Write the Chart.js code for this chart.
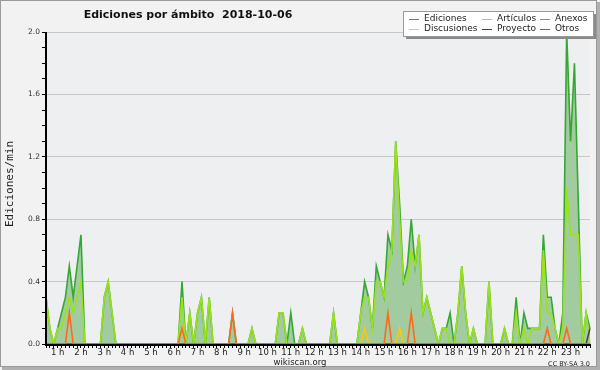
<!DOCTYPE html>
<html>
<head>
<meta charset="utf-8">
<script src="https://cdn.jsdelivr.net/npm/chart.js@4.4.0/dist/chart.umd.min.js"></script>
<style>
html, body { margin: 0; padding: 0; background: #f2f2f2; }
canvas { display: block; }
</style>
</head>
<body>
<canvas id="chart" width="600" height="370"></canvas>
<script>
// 10-minute buckets, 00:30 -> 23:50
const times = [];
for (let m = 30; m <= 1430; m += 10) {
    times.push(String(Math.floor(m / 60)).padStart(2, '0') + ':' + String(m % 60).padStart(2, '0'));
}

// one row per hour (00:30-00:50, then 01:00-01:50, ...)
const ediciones = [
    0.3, 0.1, 0,
    0.1, 0.2, 0.3, 0.5, 0.3, 0.5,
    0.7, 0, 0, 0, 0, 0,
    0.3, 0.4, 0.2, 0, 0, 0,
    0, 0, 0, 0, 0, 0,
    0, 0, 0, 0, 0, 0,
    0, 0, 0.4, 0, 0.2, 0,
    0.2, 0.3, 0, 0.3, 0, 0,
    0, 0, 0, 0.2, 0, 0,
    0, 0, 0.1, 0, 0, 0,
    0, 0, 0, 0.2, 0.2, 0,
    0.2, 0, 0, 0.1, 0, 0,
    0, 0, 0, 0, 0, 0.2,
    0, 0, 0, 0, 0, 0,
    0.2, 0.4, 0.3, 0.1, 0.5, 0.4,
    0.3, 0.7, 0.6, 1.3, 0.9, 0.4,
    0.5, 0.8, 0.5, 0.7, 0.2, 0.3,
    0.2, 0.1, 0, 0.1, 0.1, 0.2,
    0, 0.2, 0.5, 0.2, 0, 0.1,
    0, 0, 0, 0.4, 0, 0,
    0, 0.1, 0, 0, 0.3, 0,
    0.2, 0.1, 0.1, 0.1, 0.1, 0.7,
    0.3, 0.3, 0.1, 0, 0.2, 2.0,
    1.3, 1.8, 0.9, 0, 0.2, 0.1
];
const articulos = [
    0.3, 0.1, 0,
    0.1, 0.1, 0.2, 0.3, 0.2, 0.3,
    0.4, 0, 0, 0, 0, 0,
    0.3, 0.4, 0.2, 0, 0, 0,
    0, 0, 0, 0, 0, 0,
    0, 0, 0, 0, 0, 0,
    0, 0, 0.3, 0, 0.2, 0,
    0.2, 0.3, 0, 0.3, 0, 0,
    0, 0, 0, 0, 0, 0,
    0, 0, 0.1, 0, 0, 0,
    0, 0, 0, 0.2, 0.2, 0,
    0, 0, 0, 0.1, 0, 0,
    0, 0, 0, 0, 0, 0.2,
    0, 0, 0, 0, 0, 0,
    0.2, 0.3, 0.3, 0.1, 0.4, 0.4,
    0.3, 0.5, 0.6, 1.3, 0.8, 0.4,
    0.4, 0.6, 0.5, 0.7, 0.2, 0.3,
    0.2, 0.1, 0, 0.1, 0.1, 0,
    0, 0.2, 0.5, 0.2, 0, 0.1,
    0, 0, 0, 0.4, 0, 0,
    0, 0.1, 0, 0, 0.2, 0,
    0.1, 0, 0.1, 0.1, 0.1, 0.6,
    0.2, 0.2, 0.1, 0, 0.1, 1.0,
    0.7, 0.7, 0.7, 0, 0.2, 0
];
const anexos = [
    0, 0, 0,
    0, 0, 0, 0.2, 0, 0,
    0, 0, 0, 0, 0, 0,
    0, 0, 0, 0, 0, 0,
    0, 0, 0, 0, 0, 0,
    0, 0, 0, 0, 0, 0,
    0, 0, 0.1, 0, 0, 0,
    0, 0, 0, 0, 0, 0,
    0, 0, 0, 0.2, 0, 0,
    0, 0, 0, 0, 0, 0,
    0, 0, 0, 0, 0, 0,
    0, 0, 0, 0, 0, 0,
    0, 0, 0, 0, 0, 0,
    0, 0, 0, 0, 0, 0,
    0, 0, 0, 0, 0, 0,
    0, 0.2, 0, 0, 0, 0,
    0, 0.2, 0, 0, 0, 0,
    0, 0, 0, 0, 0, 0,
    0, 0, 0, 0, 0, 0,
    0, 0, 0, 0, 0, 0,
    0, 0, 0, 0, 0, 0,
    0, 0, 0, 0, 0, 0,
    0.1, 0, 0, 0, 0, 0.1,
    0, 0, 0, 0, 0, 0
];
const discusiones = [
    0, 0, 0,
    0, 0, 0, 0, 0, 0,
    0, 0, 0, 0, 0, 0,
    0, 0, 0, 0, 0, 0,
    0, 0, 0, 0, 0, 0,
    0, 0, 0, 0, 0, 0,
    0, 0, 0, 0, 0, 0,
    0, 0, 0, 0, 0, 0,
    0, 0, 0, 0, 0, 0,
    0, 0, 0, 0, 0, 0,
    0, 0, 0, 0, 0, 0,
    0, 0, 0, 0, 0, 0,
    0, 0, 0, 0, 0, 0,
    0, 0, 0, 0, 0, 0,
    0, 0.1, 0, 0, 0, 0,
    0, 0, 0, 0, 0.1, 0,
    0, 0, 0, 0, 0, 0,
    0, 0, 0, 0, 0, 0,
    0, 0, 0, 0, 0, 0,
    0, 0, 0, 0, 0, 0,
    0, 0, 0, 0, 0, 0,
    0, 0, 0, 0, 0, 0,
    0, 0, 0, 0, 0, 0,
    0, 0, 0, 0, 0, 0
];
const proyecto = [
    0, 0, 0,
    0, 0, 0, 0, 0, 0,
    0, 0, 0, 0, 0, 0,
    0, 0, 0, 0, 0, 0,
    0, 0, 0, 0, 0, 0,
    0, 0, 0, 0, 0, 0,
    0, 0, 0, 0, 0, 0,
    0, 0, 0, 0, 0, 0,
    0, 0, 0, 0, 0, 0,
    0, 0, 0, 0, 0, 0,
    0, 0, 0, 0, 0, 0,
    0, 0, 0, 0, 0, 0,
    0, 0, 0, 0, 0, 0,
    0, 0, 0, 0, 0, 0,
    0, 0, 0, 0, 0, 0,
    0, 0, 0, 0, 0, 0,
    0, 0, 0, 0, 0, 0,
    0, 0, 0, 0, 0, 0,
    0, 0, 0, 0, 0, 0,
    0, 0, 0, 0, 0, 0,
    0, 0, 0, 0, 0, 0,
    0, 0, 0, 0, 0, 0,
    0, 0, 0, 0, 0, 0,
    0, 0, 0, 0, 0, 0.1
];
const otros = new Array(times.length).fill(0);

const titleText = 'Ediciones por ámbito  2018-10-06';
const yTitle = 'Ediciones/min';

const isMajor = v => Math.round(v * 10) % 4 === 0;

const series = [
    { label: 'Ediciones', data: ediciones, color: '#33a833', order: 5 },
    { label: 'Artículos', data: articulos, color: '#9be21a', order: 4 },
    { label: 'Anexos', data: anexos, color: '#ff6a1a', order: 0 },
    { label: 'Discusiones', data: discusiones, color: '#ffc800', order: 3 },
    { label: 'Proyecto', data: proyecto, color: '#444444', order: 2 },
    { label: 'Otros', data: otros, color: '#9933ff', order: 1 }
];

// background, axes, title, legend and credits
const decorations = {
    id: 'decorations',
    beforeDraw(chart) {
        const { ctx, chartArea: a } = chart;
        ctx.save();
        ctx.fillStyle = '#f2f2f2';
        ctx.fillRect(0, 0, 600, 370);
        ctx.fillStyle = '#b0b0b0';
        ctx.fillRect(597, 2, 3, 368);
        ctx.fillRect(2, 367, 598, 3);
        ctx.strokeStyle = '#9a9a9a';
        ctx.lineWidth = 1;
        ctx.strokeRect(0.5, 0.5, 596, 366);
        ctx.fillStyle = '#eeeff1';
        ctx.fillRect(a.left, a.top, a.right - a.left, a.bottom - a.top);
        ctx.restore();
    },
    afterDatasetsDraw(chart) {
        const { ctx, chartArea: a } = chart;
        ctx.save();
        ctx.strokeStyle = '#000';
        ctx.lineWidth = 2;
        ctx.beginPath();
        ctx.moveTo(a.left, a.top);
        ctx.lineTo(a.left, a.bottom + 1);
        ctx.lineTo(a.right, a.bottom + 1);
        ctx.stroke();
        ctx.restore();
    },
    afterDraw(chart) {
        const ctx = chart.ctx;
        ctx.save();
        ctx.fillStyle = '#111';
        ctx.font = 'bold 11px "DejaVu Sans"';
        ctx.textAlign = 'center';
        ctx.textBaseline = 'alphabetic';
        ctx.fillText(titleText, 188, 18);

        ctx.font = '8.5px "DejaVu Sans"';
        ctx.fillStyle = '#222';
        ctx.fillText('wikiscan.org', 300, 365);
        ctx.font = '6.5px "DejaVu Sans"';
        ctx.textAlign = 'right';
        ctx.fillText('CC BY-SA 3.0', 590, 366);

        ctx.translate(10.5, 184);
        ctx.rotate(-Math.PI / 2);
        ctx.textAlign = 'center';
        ctx.textBaseline = 'middle';
        ctx.font = '11px "DejaVu Sans Mono"';
        ctx.fillText(yTitle, 0, 0);
        ctx.restore();

        // legend box
        ctx.save();
        ctx.fillStyle = '#8a8a8a';
        ctx.fillRect(406, 37, 190, 2);
        ctx.fillRect(594, 14, 2, 25);
        ctx.fillStyle = '#fff';
        ctx.fillRect(403.5, 11.5, 190, 25);
        ctx.strokeStyle = '#999';
        ctx.lineWidth = 1;
        ctx.strokeRect(403.5, 11.5, 190, 25);
        const cols = [409, 482, 540];
        const rows = [19, 29];
        ctx.font = '9px "DejaVu Sans"';
        ctx.textAlign = 'left';
        ctx.textBaseline = 'middle';
        chart.data.datasets.forEach((ds, k) => {
            const x = cols[k % 3], y = rows[Math.floor(k / 3)];
            ctx.strokeStyle = ds.borderColor;
            ctx.beginPath();
            ctx.moveTo(x, y + 0.5);
            ctx.lineTo(x + 10, y + 0.5);
            ctx.stroke();
            ctx.fillStyle = '#222';
            ctx.fillText(ds.label, x + 15, y);
        });
        ctx.restore();
    }
};

new Chart(document.getElementById('chart'), {
    type: 'line',
    data: {
        labels: times,
        datasets: series.map(s => ({
            label: s.label,
            data: s.data,
            borderColor: s.color,
            backgroundColor: s.label === 'Ediciones' ? '#a2cb9f' : s.color,
            fill: s.label === 'Ediciones' ? 'origin' : false,
            borderWidth: 1.6,
            pointRadius: 0,
            tension: 0,
            order: s.order
        }))
    },
    options: {
        responsive: false,
        animation: false,
        events: [],
        layout: { padding: { left: 0, right: 10, top: 32, bottom: 0 } },
        plugins: { legend: { display: false }, title: { display: false }, tooltip: { enabled: false } },
        scales: {
            x: {
                type: 'category',
                offset: false,
                afterFit: s => { s.height = 26; },
                border: { display: false },
                grid: { drawOnChartArea: false, tickColor: '#000', tickLength: 4 },
                ticks: {
                    autoSkip: false,
                    maxRotation: 0,
                    padding: 0,
                    color: '#222',
                    font: { family: 'DejaVu Sans', size: 8.5 },
                    callback: function (v) {
                        const l = this.getLabelForValue(v);
                        return l.endsWith(':00') ? parseInt(l, 10) + ' h' : '';
                    }
                }
            },
            y: {
                min: 0,
                max: 2,
                afterFit: s => { s.width = 46; },
                border: { display: false },
                grid: {
                    color: c => (c.tick && isMajor(c.tick.value) && c.tick.value > 0) ? '#c8c8c8' : 'rgba(0,0,0,0)',
                    tickColor: '#000',
                    tickLength: 4
                },
                ticks: {
                    stepSize: 0.1,
                    maxTicksLimit: 40,
                    autoSkip: false,
                    padding: 2,
                    color: '#333',
                    font: { family: 'DejaVu Sans', size: 7.5 },
                    callback: v => isMajor(v) ? v.toFixed(1) : ''
                }
            }
        }
    },
    plugins: [decorations]
});
</script>
</body>
</html>
